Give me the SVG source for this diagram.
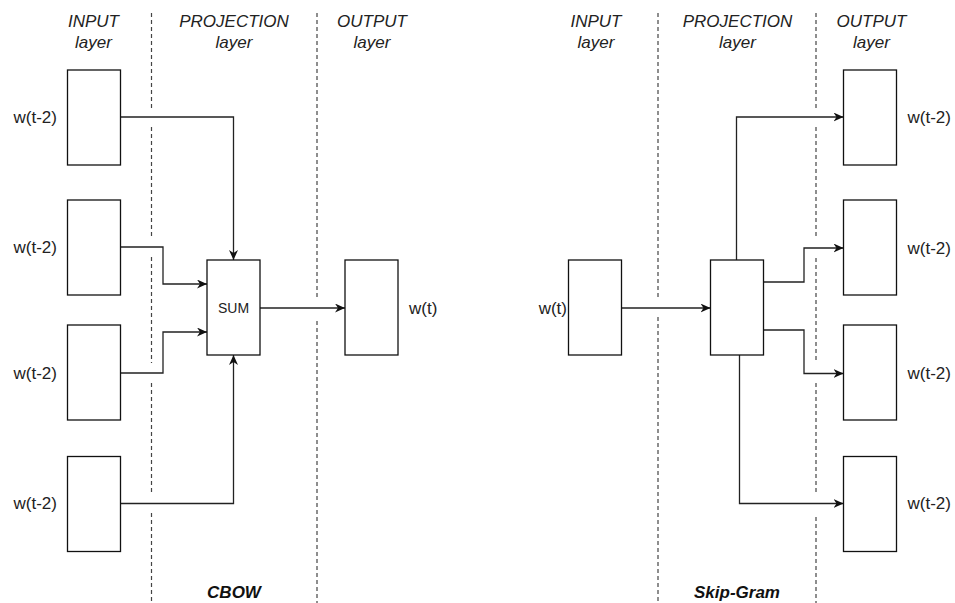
<svg xmlns="http://www.w3.org/2000/svg" width="955" height="603" viewBox="0 0 955 603">
<defs>
<marker id="arr" viewBox="0 0 10 9" refX="10" refY="4.5" markerWidth="10" markerHeight="9" markerUnits="userSpaceOnUse" orient="auto">
<path d="M0,0 L10,4.5 L0,9 L3,4.5 Z" fill="#111"/>
</marker>
<style>
text{font-family:"Liberation Sans",Arial,sans-serif;fill:#222}
.hd{font-size:17px;font-style:italic;text-anchor:middle}
.lb{font-size:17px}
.tt{font-size:17px;font-style:italic;font-weight:bold;text-anchor:middle;fill:#111}
.box{fill:#fff;stroke:#111;stroke-width:1.3}
.dash{stroke:#444;stroke-width:1.2;stroke-dasharray:4 3;fill:none}
.edge{fill:none;stroke:#222;stroke-width:1.3;marker-end:url(#arr)}
</style>
</defs>
<rect width="955" height="603" fill="#fff"/>
<g id="separators">
<path class="dash" d="M151.5,13 V108 M151.5,127 V238 M151.5,257 V363 M151.5,383 V494 M151.5,513 V603"/>
<path class="dash" d="M317,13 V298 M317,321 V603"/>
<path class="dash" d="M658,13 V298 M658,317 V603"/>
<path class="dash" d="M816,13 V108 M816,127 V238 M816,258 V363 M816,383 V494 M816,517 V603"/>
</g>
<g id="headers">
<text class="hd" x="93.5" y="27">INPUT</text><text class="hd" x="93.5" y="48">layer</text>
<text class="hd" x="234" y="27">PROJECTION</text><text class="hd" x="234" y="48">layer</text>
<text class="hd" x="372" y="27">OUTPUT</text><text class="hd" x="372" y="48">layer</text>
<text class="hd" x="596" y="27">INPUT</text><text class="hd" x="596" y="48">layer</text>
<text class="hd" x="737.5" y="27">PROJECTION</text><text class="hd" x="737.5" y="48">layer</text>
<text class="hd" x="871.5" y="27">OUTPUT</text><text class="hd" x="871.5" y="48">layer</text>
</g>
<g id="connectors">
<path class="edge" d="M120.5,117 H233.5 V260"/>
<path class="edge" d="M120.5,247 H163 V284 H207"/>
<path class="edge" d="M120.5,373 H163 V332 H207"/>
<path class="edge" d="M120.5,503.5 H233.5 V355"/>
<path class="edge" d="M260,308 H345"/>
<path class="edge" d="M621.5,308 H710.5"/>
<path class="edge" d="M736.5,260 V117 H843.5"/>
<path class="edge" d="M763.5,282 H804 V248 H843.5"/>
<path class="edge" d="M763.5,330 H804 V373.5 H843.5"/>
<path class="edge" d="M739.5,355 V503.5 H843.5"/>
</g>
<g id="cbow-in1"><rect class="box" x="67.5" y="70" width="53" height="95"/><text class="lb" x="57" y="123" text-anchor="end">w(t-2)</text></g>
<g id="cbow-in2"><rect class="box" x="67.5" y="200" width="53" height="95"/><text class="lb" x="57" y="253" text-anchor="end">w(t-2)</text></g>
<g id="cbow-in3"><rect class="box" x="67.5" y="325" width="53" height="95"/><text class="lb" x="57" y="379" text-anchor="end">w(t-2)</text></g>
<g id="cbow-in4"><rect class="box" x="67.5" y="456.5" width="53" height="95"/><text class="lb" x="57" y="509" text-anchor="end">w(t-2)</text></g>
<g id="cbow-sum"><rect class="box" x="207" y="260" width="53" height="95"/><text x="233.5" y="313" font-size="14" text-anchor="middle">SUM</text></g>
<g id="cbow-out"><rect class="box" x="345" y="260" width="53" height="95"/><text class="lb" x="409" y="314">w(t)</text></g>
<g id="sg-in"><rect class="box" x="568.5" y="260" width="53" height="95"/><text class="lb" x="567" y="314" text-anchor="end">w(t)</text></g>
<g id="sg-proj"><rect class="box" x="710.5" y="260" width="53" height="95"/></g>
<g id="sg-out1"><rect class="box" x="843.5" y="70" width="53" height="95"/><text class="lb" x="907.5" y="123">w(t-2)</text></g>
<g id="sg-out2"><rect class="box" x="843.5" y="200" width="53" height="95"/><text class="lb" x="907.5" y="254">w(t-2)</text></g>
<g id="sg-out3"><rect class="box" x="843.5" y="325" width="53" height="95"/><text class="lb" x="907.5" y="379">w(t-2)</text></g>
<g id="sg-out4"><rect class="box" x="843.5" y="456.5" width="53" height="95"/><text class="lb" x="907.5" y="509">w(t-2)</text></g>
<g id="titles">
<text class="tt" x="234" y="598">CBOW</text>
<text class="tt" x="737" y="598">Skip-Gram</text>
</g>
</svg>
